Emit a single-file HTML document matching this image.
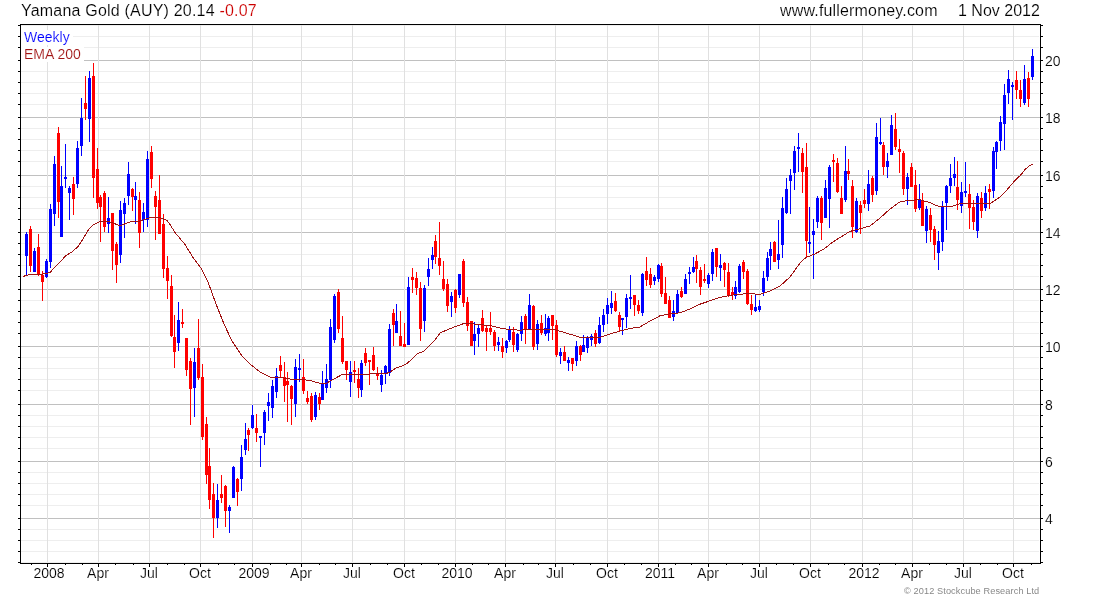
<!DOCTYPE html>
<html><head><meta charset="utf-8"><title>Yamana Gold (AUY) Weekly</title>
<style>
html,body{margin:0;padding:0;background:#fff;}
body{width:1100px;height:600px;position:relative;overflow:hidden;font-family:"Liberation Sans",sans-serif;}
.t{position:absolute;white-space:nowrap;font-family:"Liberation Sans",sans-serif;will-change:transform;-webkit-text-stroke:0.15px #fff;}
</style></head><body>
<svg width="1100" height="600" viewBox="0 0 1100 600" shape-rendering="crispEdges" style="position:absolute;left:0;top:0">
<path d="M21 25h1018v1h-1018zM21 36h1018v1h-1018zM21 47h1018v1h-1018zM21 71h1018v1h-1018zM21 82h1018v1h-1018zM21 93h1018v1h-1018zM21 104h1018v1h-1018zM21 128h1018v1h-1018zM21 139h1018v1h-1018zM21 150h1018v1h-1018zM21 161h1018v1h-1018zM21 186h1018v1h-1018zM21 197h1018v1h-1018zM21 208h1018v1h-1018zM21 219h1018v1h-1018zM21 243h1018v1h-1018zM21 254h1018v1h-1018zM21 265h1018v1h-1018zM21 276h1018v1h-1018zM21 300h1018v1h-1018zM21 311h1018v1h-1018zM21 322h1018v1h-1018zM21 333h1018v1h-1018zM21 357h1018v1h-1018zM21 368h1018v1h-1018zM21 379h1018v1h-1018zM21 390h1018v1h-1018zM21 415h1018v1h-1018zM21 426h1018v1h-1018zM21 437h1018v1h-1018zM21 448h1018v1h-1018zM21 472h1018v1h-1018zM21 483h1018v1h-1018zM21 494h1018v1h-1018zM21 505h1018v1h-1018zM21 529h1018v1h-1018zM21 540h1018v1h-1018zM21 551h1018v1h-1018zM21 562h1018v1h-1018z" fill="#eeeeee"/>
<path d="M21 60h1019v1h-1019zM21 117h1019v1h-1019zM21 175h1019v1h-1019zM21 232h1019v1h-1019zM21 289h1019v1h-1019zM21 346h1019v1h-1019zM21 404h1019v1h-1019zM21 461h1019v1h-1019zM21 518h1019v1h-1019z" fill="#c0c0c0"/>
<path d="M47 25h1v537h-1zM98 25h1v537h-1zM149 25h1v537h-1zM200 25h1v537h-1zM252 25h1v537h-1zM301 25h1v537h-1zM352 25h1v537h-1zM404 25h1v537h-1zM455 25h1v537h-1zM505 25h1v537h-1zM555 25h1v537h-1zM607 25h1v537h-1zM658 25h1v537h-1zM708 25h1v537h-1zM759 25h1v537h-1zM810 25h1v537h-1zM862 25h1v537h-1zM912 25h1v537h-1zM963 25h1v537h-1zM1013 25h1v537h-1z" fill="#e0e0e0"/>
<path d="M21 30h52v15h-52zM21 47h63v15h-63z" fill="#fff"/>
<path d="M30 226h1v46h-1zM29 229h3v37h-3zM38 234h1v42h-1zM37 247h3v28h-3zM42 271h1v30h-1zM41 275h3v7h-3zM58 127h1v91h-1zM57 133h3v69h-3zM73 177h1v38h-1zM72 184h3v15h-3zM85 76h1v44h-1zM84 103h3v6h-3zM93 63h1v135h-1zM92 76h3v102h-3zM97 148h1v61h-1zM96 169h3v34h-3zM100 195h1v47h-1zM99 197h3v10h-3zM104 191h1v41h-1zM103 193h3v34h-3zM112 213h1v57h-1zM111 213h3v38h-3zM116 242h1v41h-1zM115 244h3v21h-3zM132 188h1v23h-1zM131 189h3v8h-3zM139 192h1v56h-1zM138 200h3v33h-3zM151 146h1v42h-1zM150 152h3v27h-3zM155 191h1v49h-1zM154 196h3v11h-3zM159 175h1v59h-1zM158 200h3v34h-3zM163 214h1v64h-1zM162 224h3v45h-3zM167 256h1v43h-1zM166 268h3v13h-3zM171 275h1v62h-1zM170 286h3v50h-3zM174 315h1v53h-1zM173 337h3v15h-3zM182 309h1v19h-1zM181 322h3v2h-3zM186 338h1v38h-1zM185 338h3v32h-3zM190 358h1v67h-1zM189 361h3v28h-3zM198 319h1v61h-1zM197 348h3v30h-3zM202 364h1v76h-1zM201 377h3v60h-3zM206 417h1v67h-1zM205 424h3v51h-3zM209 448h1v61h-1zM208 466h3v34h-3zM213 483h1v55h-1zM212 494h3v24h-3zM221 475h1v28h-1zM220 494h3v4h-3zM225 485h1v42h-1zM224 486h3v25h-3zM237 478h1v28h-1zM236 479h3v13h-3zM248 428h1v23h-1zM247 430h3v5h-3zM256 414h1v28h-1zM255 428h3v5h-3zM280 356h1v21h-1zM279 365h3v6h-3zM284 362h1v40h-1zM283 377h3v9h-3zM287 372h1v50h-1zM286 381h3v4h-3zM291 385h1v40h-1zM290 386h3v13h-3zM303 359h1v35h-1zM302 377h3v14h-3zM307 391h1v13h-1zM306 398h3v4h-3zM311 393h1v29h-1zM310 396h3v24h-3zM319 393h1v17h-1zM318 397h3v7h-3zM338 289h1v44h-1zM337 292h3v37h-3zM342 316h1v48h-1zM341 338h3v24h-3zM346 361h1v19h-1zM345 361h3v9h-3zM354 361h1v22h-1zM353 370h3v2h-3zM358 368h1v30h-1zM357 379h3v9h-3zM365 348h1v18h-1zM364 353h3v10h-3zM369 360h1v25h-1zM368 360h3v2h-3zM373 347h1v24h-1zM372 355h3v15h-3zM377 367h1v13h-1zM376 374h3v2h-3zM393 309h1v37h-1zM392 313h3v12h-3zM400 311h1v35h-1zM399 336h3v10h-3zM404 323h1v24h-1zM403 344h3v3h-3zM412 268h1v25h-1zM411 277h3v3h-3zM416 272h1v23h-1zM415 278h3v10h-3zM420 282h1v59h-1zM419 288h3v41h-3zM435 235h1v29h-1zM434 241h3v16h-3zM439 222h1v53h-1zM438 258h3v8h-3zM443 261h1v30h-1zM442 279h3v10h-3zM447 279h1v33h-1zM446 284h3v22h-3zM455 289h1v24h-1zM454 290h3v18h-3zM463 259h1v48h-1zM462 261h3v42h-3zM467 297h1v34h-1zM466 302h3v24h-3zM471 321h1v25h-1zM470 321h3v25h-3zM482 310h1v22h-1zM481 318h3v13h-3zM486 326h1v25h-1zM485 328h3v4h-3zM490 312h1v23h-1zM489 328h3v4h-3zM494 330h1v21h-1zM493 332h3v14h-3zM502 338h1v20h-1zM501 346h3v6h-3zM513 327h1v25h-1zM512 332h3v13h-3zM525 314h1v30h-1zM524 316h3v13h-3zM533 305h1v45h-1zM532 306h3v41h-3zM541 315h1v20h-1zM540 323h3v10h-3zM552 315h1v25h-1zM551 315h3v11h-3zM556 320h1v37h-1zM555 325h3v30h-3zM564 346h1v15h-1zM563 352h3v9h-3zM572 358h1v13h-1zM571 358h3v6h-3zM580 345h1v16h-1zM579 346h3v9h-3zM595 330h1v17h-1zM594 333h3v11h-3zM615 293h1v19h-1zM614 301h3v10h-3zM619 312h1v19h-1zM618 315h3v12h-3zM634 295h1v21h-1zM633 295h3v10h-3zM638 300h1v14h-1zM637 305h3v6h-3zM646 257h1v29h-1zM645 271h3v9h-3zM650 268h1v20h-1zM649 274h3v11h-3zM661 263h1v34h-1zM660 266h3v28h-3zM665 277h1v27h-1zM664 293h3v11h-3zM669 296h1v22h-1zM668 300h3v18h-3zM681 287h1v11h-1zM680 291h3v6h-3zM696 255h1v28h-1zM695 261h3v8h-3zM700 267h1v28h-1zM699 270h3v17h-3zM704 264h1v19h-1zM703 279h3v2h-3zM716 248h1v29h-1zM715 248h3v19h-3zM724 262h1v25h-1zM723 263h3v7h-3zM728 263h1v34h-1zM727 272h3v23h-3zM732 287h1v13h-1zM731 292h3v3h-3zM743 260h1v19h-1zM742 262h3v10h-3zM747 269h1v36h-1zM746 271h3v33h-3zM751 295h1v20h-1zM750 304h3v6h-3zM774 241h1v21h-1zM773 242h3v20h-3zM802 148h1v45h-1zM801 153h3v19h-3zM806 143h1v115h-1zM805 167h3v74h-3zM821 196h1v44h-1zM820 198h3v25h-3zM833 154h1v28h-1zM832 160h3v2h-3zM837 158h1v35h-1zM836 163h3v29h-3zM841 186h1v28h-1zM840 198h3v16h-3zM848 159h1v21h-1zM847 171h3v3h-3zM852 180h1v58h-1zM851 186h3v41h-3zM860 201h1v33h-1zM859 205h3v8h-3zM864 189h1v19h-1zM863 200h3v4h-3zM872 176h1v26h-1zM871 178h3v17h-3zM883 142h1v33h-1zM882 145h3v22h-3zM895 113h1v37h-1zM894 129h3v18h-3zM899 139h1v34h-1zM898 149h3v3h-3zM903 151h1v44h-1zM902 153h3v36h-3zM911 163h1v24h-1zM910 167h3v20h-3zM915 170h1v42h-1zM914 185h3v24h-3zM922 193h1v33h-1zM921 200h3v26h-3zM930 208h1v34h-1zM929 215h3v15h-3zM934 226h1v34h-1zM933 229h3v16h-3zM957 161h1v49h-1zM956 187h3v13h-3zM969 184h1v45h-1zM968 194h3v14h-3zM973 200h1v30h-1zM972 207h3v15h-3zM981 192h1v26h-1zM980 198h3v13h-3zM989 184h1v25h-1zM988 189h3v3h-3zM1016 71h1v28h-1zM1015 80h3v10h-3zM1020 80h1v27h-1zM1019 90h3v9h-3zM1028 72h1v35h-1zM1027 78h3v21h-3z" fill="#ff0000"/>
<path d="M26 232h1v44h-1zM25 234h3v22h-3zM34 248h1v24h-1zM33 251h3v21h-3zM46 259h1v19h-1zM45 261h3v16h-3zM50 204h1v64h-1zM49 209h3v53h-3zM54 156h1v70h-1zM53 164h3v50h-3zM61 166h1v71h-1zM60 186h3v51h-3zM65 144h1v44h-1zM64 177h3v2h-3zM69 186h1v34h-1zM68 188h3v5h-3zM77 141h1v47h-1zM76 148h3v36h-3zM81 98h1v58h-1zM80 118h3v28h-3zM89 71h1v71h-1zM88 78h3v41h-3zM108 197h1v36h-1zM107 218h3v6h-3zM120 201h1v62h-1zM119 210h3v45h-3zM124 198h1v40h-1zM123 203h3v11h-3zM128 162h1v43h-1zM127 174h3v22h-3zM135 182h1v42h-1zM134 196h3v4h-3zM143 203h1v29h-1zM142 212h3v8h-3zM147 151h1v76h-1zM146 159h3v61h-3zM178 302h1v49h-1zM177 320h3v23h-3zM194 348h1v69h-1zM193 362h3v26h-3zM217 484h1v44h-1zM216 500h3v18h-3zM229 505h1v28h-1zM228 507h3v4h-3zM233 466h1v32h-1zM232 467h3v31h-3zM241 445h1v46h-1zM240 457h3v22h-3zM245 423h1v32h-1zM244 439h3v11h-3zM252 405h1v24h-1zM251 415h3v13h-3zM260 436h1v31h-1zM259 436h3v2h-3zM264 410h1v35h-1zM263 412h3v21h-3zM268 393h1v28h-1zM267 402h3v4h-3zM272 380h1v38h-1zM271 386h3v22h-3zM276 368h1v30h-1zM275 376h3v16h-3zM295 359h1v58h-1zM294 367h3v37h-3zM299 354h1v28h-1zM298 368h3v2h-3zM315 392h1v28h-1zM314 395h3v22h-3zM322 371h1v29h-1zM321 383h3v17h-3zM326 364h1v29h-1zM325 379h3v9h-3zM330 319h1v69h-1zM329 327h3v53h-3zM334 294h1v49h-1zM333 296h3v44h-3zM350 361h1v36h-1zM349 372h3v10h-3zM361 360h1v37h-1zM360 363h3v27h-3zM381 370h1v22h-1zM380 375h3v10h-3zM385 365h1v19h-1zM384 366h3v8h-3zM389 324h1v52h-1zM388 329h3v44h-3zM396 304h1v29h-1zM395 321h3v12h-3zM408 277h1v68h-1zM407 287h3v58h-3zM424 285h1v47h-1zM423 288h3v33h-3zM428 258h1v28h-1zM427 269h3v8h-3zM432 247h1v22h-1zM431 255h3v5h-3zM451 292h1v25h-1zM450 296h3v6h-3zM459 274h1v24h-1zM458 274h3v21h-3zM474 322h1v33h-1zM473 334h3v7h-3zM478 324h1v23h-1zM477 328h3v6h-3zM498 337h1v14h-1zM497 342h3v3h-3zM506 340h1v13h-1zM505 341h3v7h-3zM509 326h1v16h-1zM508 329h3v11h-3zM517 333h1v19h-1zM516 334h3v16h-3zM521 316h1v25h-1zM520 322h3v12h-3zM529 294h1v35h-1zM528 305h3v24h-3zM537 320h1v30h-1zM536 324h3v20h-3zM545 314h1v22h-1zM544 328h3v6h-3zM548 316h1v25h-1zM547 318h3v15h-3zM560 348h1v16h-1zM559 352h3v4h-3zM568 357h1v14h-1zM567 360h3v3h-3zM576 341h1v25h-1zM575 346h3v15h-3zM583 335h1v17h-1zM582 345h3v7h-3zM587 336h1v17h-1zM586 338h3v10h-3zM591 334h1v12h-1zM590 336h3v4h-3zM599 317h1v27h-1zM598 325h3v18h-3zM603 309h1v23h-1zM602 315h3v10h-3zM607 298h1v26h-1zM606 305h3v9h-3zM611 291h1v23h-1zM610 303h3v5h-3zM622 318h1v17h-1zM621 318h3v2h-3zM626 294h1v34h-1zM625 298h3v19h-3zM630 275h1v34h-1zM629 297h3v2h-3zM642 273h1v43h-1zM641 274h3v39h-3zM654 275h1v10h-1zM653 277h3v4h-3zM658 264h1v18h-1zM657 265h3v14h-3zM673 300h1v21h-1zM672 311h3v6h-3zM677 290h1v23h-1zM676 294h3v19h-3zM685 274h1v20h-1zM684 279h3v15h-3zM689 267h1v17h-1zM688 272h3v2h-3zM693 257h1v16h-1zM692 267h3v5h-3zM708 273h1v15h-1zM707 275h3v9h-3zM712 249h1v32h-1zM711 252h3v22h-3zM720 254h1v27h-1zM719 265h3v3h-3zM735 281h1v18h-1zM734 287h3v9h-3zM739 264h1v29h-1zM738 266h3v26h-3zM755 295h1v17h-1zM754 307h3v4h-3zM759 300h1v12h-1zM758 306h3v4h-3zM763 271h1v25h-1zM762 278h3v14h-3zM767 252h1v29h-1zM766 258h3v19h-3zM770 242h1v28h-1zM769 249h3v7h-3zM778 220h1v49h-1zM777 254h3v6h-3zM782 197h1v61h-1zM781 208h3v37h-3zM786 178h1v36h-1zM785 189h3v24h-3zM790 169h1v45h-1zM789 175h3v6h-3zM794 146h1v44h-1zM793 151h3v22h-3zM798 133h1v39h-1zM797 147h3v2h-3zM809 207h1v46h-1zM808 242h3v2h-3zM813 219h1v60h-1zM812 231h3v4h-3zM817 196h1v32h-1zM816 198h3v24h-3zM825 180h1v38h-1zM824 188h3v30h-3zM829 165h1v63h-1zM828 167h3v32h-3zM845 146h1v56h-1zM844 171h3v29h-3zM856 198h1v35h-1zM855 201h3v31h-3zM868 170h1v41h-1zM867 184h3v20h-3zM876 123h1v72h-1zM875 137h3v54h-3zM880 118h1v27h-1zM879 142h3v2h-3zM887 153h1v25h-1zM886 161h3v6h-3zM891 115h1v40h-1zM890 125h3v30h-3zM907 173h1v32h-1zM906 177h3v12h-3zM919 184h1v26h-1zM918 199h3v9h-3zM926 206h1v37h-1zM925 209h3v22h-3zM938 231h1v39h-1zM937 241h3v12h-3zM942 201h1v50h-1zM941 207h3v35h-3zM946 185h1v45h-1zM945 186h3v17h-3zM950 164h1v29h-1zM949 178h3v8h-3zM954 157h1v29h-1zM953 174h3v4h-3zM961 182h1v31h-1zM960 192h3v14h-3zM965 162h1v35h-1zM964 191h3v2h-3zM977 193h1v45h-1zM976 196h3v35h-3zM985 186h1v25h-1zM984 193h3v15h-3zM993 147h1v51h-1zM992 151h3v40h-3zM996 141h1v28h-1zM995 142h3v10h-3zM1000 116h1v35h-1zM999 122h3v19h-3zM1004 84h1v66h-1zM1003 95h3v29h-3zM1008 70h1v34h-1zM1007 79h3v14h-3zM1012 82h1v38h-1zM1011 85h3v2h-3zM1024 65h1v40h-1zM1023 79h3v24h-3zM1032 49h1v31h-1zM1031 56h3v21h-3z" fill="#0000ff"/>
<path d="M23.0 276.5 L26.0 275.5 L29.0 274.6 L38.0 274.0 L43.0 274.0 L50.0 272.5 L55.0 267.0 L60.0 262.0 L66.0 255.5 L72.0 252.0 L78.0 246.5 L83.0 239.0 L88.0 230.5 L92.0 225.7 L100.0 221.4 L110.0 222.0 L120.0 225.6 L130.0 222.0 L140.0 221.0 L151.0 217.5 L160.0 217.5 L167.0 220.5 L171.0 226.0 L175.0 232.5 L185.0 244.5 L194.0 259.0 L201.0 268.0 L208.0 282.0 L216.0 304.0 L224.0 324.0 L232.0 341.0 L242.0 356.0 L250.0 364.0 L260.0 372.0 L270.0 377.0 L280.0 377.4 L290.0 379.0 L300.0 379.4 L310.0 380.4 L320.0 383.4 L326.0 383.4 L334.0 379.0 L342.0 374.6 L350.0 374.0 L360.0 374.0 L370.0 374.0 L387.0 373.2 L390.0 372.0 L397.0 367.5 L402.0 366.0 L407.0 363.5 L412.0 359.0 L417.0 354.0 L424.0 351.0 L429.0 346.0 L435.0 340.0 L440.0 333.0 L450.0 328.6 L460.0 325.0 L464.0 323.4 L474.0 324.0 L490.0 325.6 L500.0 328.0 L510.0 329.6 L520.0 330.2 L530.0 329.4 L540.0 329.4 L556.0 330.0 L568.0 333.6 L580.0 337.2 L590.0 337.6 L600.0 337.4 L610.0 334.0 L620.0 331.0 L630.0 328.4 L640.0 327.0 L650.0 321.0 L660.0 315.8 L670.0 313.8 L680.0 312.8 L690.0 309.0 L700.0 304.2 L710.0 300.8 L720.0 297.4 L730.0 295.4 L740.0 294.2 L750.0 293.6 L760.0 294.4 L770.0 291.0 L780.0 286.0 L790.0 277.0 L800.0 263.0 L806.0 257.4 L814.0 254.4 L824.0 249.0 L832.0 242.6 L840.0 237.5 L850.0 231.4 L860.0 228.8 L870.0 226.0 L880.0 218.0 L890.0 209.0 L900.0 201.8 L910.0 200.2 L920.0 199.8 L930.0 202.7 L940.0 207.0 L950.0 206.8 L960.0 203.8 L970.0 203.0 L980.0 203.5 L990.0 203.6 L1000.0 197.0 L1006.0 191.0 L1014.0 181.6 L1017.5 178.0 L1020.5 175.3 L1025.0 169.5 L1029.0 166.2 L1032.5 164.3" fill="none" stroke="#a01212" stroke-width="1" shape-rendering="crispEdges"/>
<path d="M20 24h1021v1h-1021zM20 24h1v540h-1zM20 563h1021v1h-1021zM1040 24h1v540h-1zM18 60h2v1h-2zM1041 60h2v1h-2zM18 117h2v1h-2zM1041 117h2v1h-2zM18 175h2v1h-2zM1041 175h2v1h-2zM18 232h2v1h-2zM1041 232h2v1h-2zM18 289h2v1h-2zM1041 289h2v1h-2zM18 346h2v1h-2zM1041 346h2v1h-2zM18 404h2v1h-2zM1041 404h2v1h-2zM18 461h2v1h-2zM1041 461h2v1h-2zM18 518h2v1h-2zM1041 518h2v1h-2zM18 25h2v1h-2zM1041 25h2v1h-2zM18 36h2v1h-2zM1041 36h2v1h-2zM18 47h2v1h-2zM1041 47h2v1h-2zM18 71h2v1h-2zM1041 71h2v1h-2zM18 82h2v1h-2zM1041 82h2v1h-2zM18 93h2v1h-2zM1041 93h2v1h-2zM18 104h2v1h-2zM1041 104h2v1h-2zM18 128h2v1h-2zM1041 128h2v1h-2zM18 139h2v1h-2zM1041 139h2v1h-2zM18 150h2v1h-2zM1041 150h2v1h-2zM18 161h2v1h-2zM1041 161h2v1h-2zM18 186h2v1h-2zM1041 186h2v1h-2zM18 197h2v1h-2zM1041 197h2v1h-2zM18 208h2v1h-2zM1041 208h2v1h-2zM18 219h2v1h-2zM1041 219h2v1h-2zM18 243h2v1h-2zM1041 243h2v1h-2zM18 254h2v1h-2zM1041 254h2v1h-2zM18 265h2v1h-2zM1041 265h2v1h-2zM18 276h2v1h-2zM1041 276h2v1h-2zM18 300h2v1h-2zM1041 300h2v1h-2zM18 311h2v1h-2zM1041 311h2v1h-2zM18 322h2v1h-2zM1041 322h2v1h-2zM18 333h2v1h-2zM1041 333h2v1h-2zM18 357h2v1h-2zM1041 357h2v1h-2zM18 368h2v1h-2zM1041 368h2v1h-2zM18 379h2v1h-2zM1041 379h2v1h-2zM18 390h2v1h-2zM1041 390h2v1h-2zM18 415h2v1h-2zM1041 415h2v1h-2zM18 426h2v1h-2zM1041 426h2v1h-2zM18 437h2v1h-2zM1041 437h2v1h-2zM18 448h2v1h-2zM1041 448h2v1h-2zM18 472h2v1h-2zM1041 472h2v1h-2zM18 483h2v1h-2zM1041 483h2v1h-2zM18 494h2v1h-2zM1041 494h2v1h-2zM18 505h2v1h-2zM1041 505h2v1h-2zM18 529h2v1h-2zM1041 529h2v1h-2zM18 540h2v1h-2zM1041 540h2v1h-2zM18 551h2v1h-2zM1041 551h2v1h-2zM18 562h2v1h-2zM1041 562h2v1h-2zM47 564h1v3h-1zM98 564h1v3h-1zM149 564h1v3h-1zM200 564h1v3h-1zM252 564h1v3h-1zM301 564h1v3h-1zM352 564h1v3h-1zM404 564h1v3h-1zM455 564h1v3h-1zM505 564h1v3h-1zM555 564h1v3h-1zM607 564h1v3h-1zM658 564h1v3h-1zM708 564h1v3h-1zM759 564h1v3h-1zM810 564h1v3h-1zM862 564h1v3h-1zM912 564h1v3h-1zM963 564h1v3h-1zM1013 564h1v3h-1zM31 564h1v1h-1zM65 564h1v1h-1zM82 564h1v1h-1zM115 564h1v1h-1zM133 564h1v1h-1zM167 564h1v1h-1zM184 564h1v1h-1zM218 564h1v1h-1zM234 564h1v1h-1zM270 564h1v1h-1zM286 564h1v1h-1zM319 564h1v1h-1zM335 564h1v1h-1zM370 564h1v1h-1zM387 564h1v1h-1zM421 564h1v1h-1zM438 564h1v1h-1zM472 564h1v1h-1zM488 564h1v1h-1zM523 564h1v1h-1zM538 564h1v1h-1zM573 564h1v1h-1zM590 564h1v1h-1zM624 564h1v1h-1zM641 564h1v1h-1zM675 564h1v1h-1zM691 564h1v1h-1zM726 564h1v1h-1zM742 564h1v1h-1zM776 564h1v1h-1zM793 564h1v1h-1zM828 564h1v1h-1zM844 564h1v1h-1zM879 564h1v1h-1zM895 564h1v1h-1zM929 564h1v1h-1zM946 564h1v1h-1zM980 564h1v1h-1zM997 564h1v1h-1zM1031 564h1v1h-1z" fill="#000"/>
</svg>
<div class="t" style="left:21px;top:2.76px;font-size:16px;line-height:16px;height:16px;color:#000;letter-spacing:0.2px;">Yamana Gold (AUY) 20.14 <span style="color:#cc0000">-0.07</span></div>
<div class="t" style="left:780px;top:2.76px;font-size:16px;line-height:16px;height:16px;color:#000;letter-spacing:0.17px;">www.fullermoney.com</div>
<div class="t" style="right:60px;top:2.76px;font-size:16px;line-height:16px;height:16px;color:#000;">1 Nov 2012</div>
<div class="t" style="left:24.1px;top:29.95px;font-size:14px;line-height:14px;height:14px;color:#0000ff;">Weekly</div>
<div class="t" style="left:24.0px;top:46.95px;font-size:14px;line-height:14px;height:14px;color:#a01212;">EMA 200</div>
<div class="t" style="left:1044.5px;top:53.85px;font-size:14px;line-height:14px;height:14px;color:#000;">20</div>
<div class="t" style="left:1044.5px;top:110.85px;font-size:14px;line-height:14px;height:14px;color:#000;">18</div>
<div class="t" style="left:1044.5px;top:168.85px;font-size:14px;line-height:14px;height:14px;color:#000;">16</div>
<div class="t" style="left:1044.5px;top:225.85px;font-size:14px;line-height:14px;height:14px;color:#000;">14</div>
<div class="t" style="left:1044.5px;top:282.85px;font-size:14px;line-height:14px;height:14px;color:#000;">12</div>
<div class="t" style="left:1044.5px;top:339.85px;font-size:14px;line-height:14px;height:14px;color:#000;">10</div>
<div class="t" style="left:1044.5px;top:397.85px;font-size:14px;line-height:14px;height:14px;color:#000;">8</div>
<div class="t" style="left:1044.5px;top:454.85px;font-size:14px;line-height:14px;height:14px;color:#000;">6</div>
<div class="t" style="left:1044.5px;top:511.85px;font-size:14px;line-height:14px;height:14px;color:#000;">4</div>
<div class="t" style="left:-51.0px;width:200px;text-align:center;top:566.35px;font-size:14px;line-height:14px;height:14px;color:#000;">2008</div>
<div class="t" style="left:-2px;width:200px;text-align:center;top:566.35px;font-size:14px;line-height:14px;height:14px;color:#000;">Apr</div>
<div class="t" style="left:49px;width:200px;text-align:center;top:566.35px;font-size:14px;line-height:14px;height:14px;color:#000;">Jul</div>
<div class="t" style="left:100px;width:200px;text-align:center;top:566.35px;font-size:14px;line-height:14px;height:14px;color:#000;">Oct</div>
<div class="t" style="left:154.0px;width:200px;text-align:center;top:566.35px;font-size:14px;line-height:14px;height:14px;color:#000;">2009</div>
<div class="t" style="left:201px;width:200px;text-align:center;top:566.35px;font-size:14px;line-height:14px;height:14px;color:#000;">Apr</div>
<div class="t" style="left:252px;width:200px;text-align:center;top:566.35px;font-size:14px;line-height:14px;height:14px;color:#000;">Jul</div>
<div class="t" style="left:304px;width:200px;text-align:center;top:566.35px;font-size:14px;line-height:14px;height:14px;color:#000;">Oct</div>
<div class="t" style="left:357.0px;width:200px;text-align:center;top:566.35px;font-size:14px;line-height:14px;height:14px;color:#000;">2010</div>
<div class="t" style="left:405px;width:200px;text-align:center;top:566.35px;font-size:14px;line-height:14px;height:14px;color:#000;">Apr</div>
<div class="t" style="left:455px;width:200px;text-align:center;top:566.35px;font-size:14px;line-height:14px;height:14px;color:#000;">Jul</div>
<div class="t" style="left:507px;width:200px;text-align:center;top:566.35px;font-size:14px;line-height:14px;height:14px;color:#000;">Oct</div>
<div class="t" style="left:560.0px;width:200px;text-align:center;top:566.35px;font-size:14px;line-height:14px;height:14px;color:#000;">2011</div>
<div class="t" style="left:608px;width:200px;text-align:center;top:566.35px;font-size:14px;line-height:14px;height:14px;color:#000;">Apr</div>
<div class="t" style="left:659px;width:200px;text-align:center;top:566.35px;font-size:14px;line-height:14px;height:14px;color:#000;">Jul</div>
<div class="t" style="left:710px;width:200px;text-align:center;top:566.35px;font-size:14px;line-height:14px;height:14px;color:#000;">Oct</div>
<div class="t" style="left:764.0px;width:200px;text-align:center;top:566.35px;font-size:14px;line-height:14px;height:14px;color:#000;">2012</div>
<div class="t" style="left:812px;width:200px;text-align:center;top:566.35px;font-size:14px;line-height:14px;height:14px;color:#000;">Apr</div>
<div class="t" style="left:863px;width:200px;text-align:center;top:566.35px;font-size:14px;line-height:14px;height:14px;color:#000;">Jul</div>
<div class="t" style="left:913px;width:200px;text-align:center;top:566.35px;font-size:14px;line-height:14px;height:14px;color:#000;">Oct</div>
<div class="t" style="right:60.40000000000009px;top:587.01px;font-size:9.2px;line-height:9.2px;height:9.2px;color:#888888;letter-spacing:0.1px;-webkit-text-stroke:0;">&copy; 2012 Stockcube Research Ltd</div>
</body></html>
